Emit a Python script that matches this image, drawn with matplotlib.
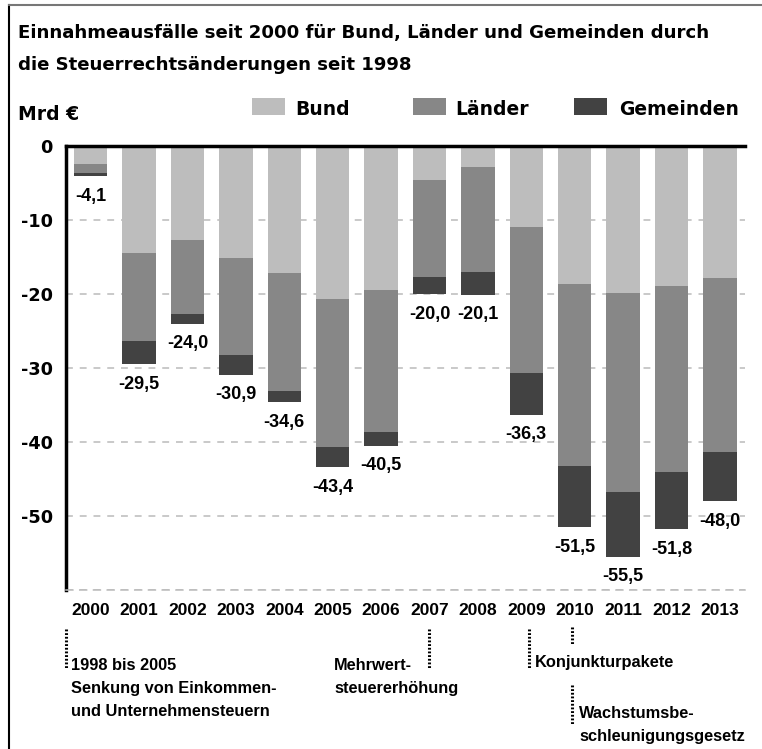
import matplotlib
matplotlib.use('Agg')
import matplotlib.pyplot as plt
import matplotlib.transforms as mtransforms
from matplotlib.patches import Rectangle
from matplotlib.lines import Line2D

years     = ['2000', '2001', '2002', '2003', '2004', '2005', '2006',
             '2007', '2008', '2009', '2010', '2011', '2012', '2013']
bund      = [2.4, 14.5, 12.7, 15.2, 17.1, 20.7, 19.4, 4.6, 2.8, 11.0, 18.6, 19.9, 18.9, 17.8]
laender   = [1.2, 11.9, 10.0, 13.0, 16.0, 20.0, 19.3, 13.1, 14.2, 19.7, 24.7, 26.9, 25.2, 23.6]
gemeinden = [0.5, 3.1, 1.3, 2.7, 1.5, 2.7, 1.8, 2.3, 3.1, 5.6, 8.2, 8.7, 7.7, 6.6]
totals    = [4.1, 29.5, 24.0, 30.9, 34.6, 43.4, 40.5, 20.0, 20.1, 36.3, 51.5, 55.5, 51.8, 48.0]

series_names  = ['Bund', 'Länder', 'Gemeinden']
series_colors = ['#bdbdbd', '#878787', '#424242']

y_ticks = [0, -10, -20, -30, -40, -50, -60]

title_lines = ['Einnahmeausfälle seit 2000 für Bund, Länder und Gemeinden durch',
               'die Steuerrechtsänderungen seit 1998']
unit_label = 'Mrd €'

# Anmerkungen unter der Achse
notes_text = [
    ['1998 bis 2005', 'Senkung von Einkommen-', 'und Unternehmensteuern'],
    ['Mehrwert-', 'steuererhöhung'],
    ['Konjunkturpakete'],
    ['Wachstumsbe-', 'schleunigungsgesetz'],
]

W, H = 762, 749
def fx(px):
    return px / W
def fy(py):
    return 1 - py / H

BIG = 'DejaVu Sans'
SMALL = 'Liberation Sans'


def main():
    fig = plt.figure(figsize=(W / 100, H / 100), dpi=100)
    ax = fig.add_axes([fx(66), fy(590), fx(745) - fx(66), fy(146) - fy(590)])

    x = list(range(len(years)))
    neg_b = [-v for v in bund]
    neg_l = [-v for v in laender]
    neg_g = [-v for v in gemeinden]
    bottom_l = neg_b
    bottom_g = [b + l for b, l in zip(neg_b, neg_l)]

    width = 0.69
    ax.bar(x, neg_b, width, color=series_colors[0], zorder=2)
    ax.bar(x, neg_l, width, bottom=bottom_l, color=series_colors[1], zorder=2)
    ax.bar(x, neg_g, width, bottom=bottom_g, color=series_colors[2], zorder=2)

    for i, t in enumerate(totals):
        ax.annotate(f'{-t:.1f}'.replace('.', ','), xy=(i, -t), xytext=(0, -14.4),
                    textcoords='offset points', ha='center', va='center',
                    fontsize=13, fontweight='bold', family=SMALL)

    ax.set_xlim(-0.51, 13.52)
    ax.set_ylim(-60, 0)

    ax.set_yticks(y_ticks)
    ax.set_yticklabels([str(v) if v > -60 else '' for v in y_ticks],
                       fontsize=12.7, fontweight='bold', family=BIG)
    ax.set_xticks(x)
    ax.set_xticklabels(years, fontsize=12.5, fontweight='bold', family=SMALL)
    ax.tick_params(axis='both', length=0)
    ax.tick_params(axis='y', pad=9.4)
    ax.tick_params(axis='x', pad=9.5)

    ax.yaxis.grid(True, color='#bbbbbb', linewidth=1.1, linestyle=(0, (4.5, 4.5)))
    ax.set_axisbelow(True)

    for s in ['left', 'top']:
        ax.spines[s].set_linewidth(2.5)
        ax.spines[s].set_color('black')
    ax.spines['right'].set_visible(False)
    ax.spines['bottom'].set_color('#bbbbbb')
    ax.spines['bottom'].set_linewidth(1.1)
    ax.spines['bottom'].set_linestyle((0, (4.5, 4.5)))

    # Titel und Einheit
    fig.text(fx(18), fy(38), title_lines[0], fontsize=13.1, fontweight='bold',
             family=BIG, va='baseline', ha='left')
    fig.text(fx(18), fy(70), title_lines[1], fontsize=13.1, fontweight='bold',
             family=BIG, va='baseline', ha='left')
    fig.text(fx(18), fy(120), unit_label, fontsize=13.5, fontweight='bold',
             family=BIG, va='baseline', ha='left')

    # Legende
    sq_left = [252, 413, 574]
    txt_left = [295, 455, 619]
    for name, col, sl, tl in zip(series_names, series_colors, sq_left, txt_left):
        fig.add_artist(Rectangle((fx(sl), fy(115)), fx(sl + 33) - fx(sl), fy(98) - fy(115),
                                 transform=fig.transFigure, facecolor=col, edgecolor='none'))
        fig.text(fx(tl), fy(115), name, fontsize=13.5, fontweight='bold', family=BIG,
                 va='baseline', ha='left')

    # Rahmen
    fig.add_artist(Line2D([fx(9), fx(9)], [0, fy(5)], color='black', lw=1.5,
                          transform=fig.transFigure))
    fig.add_artist(Line2D([fx(9), 1], [fy(5), fy(5)], color='#777777', lw=1.5,
                          transform=fig.transFigure))

    # Anmerkungen
    trans = mtransforms.blended_transform_factory(ax.transData, fig.transFigure)
    dot = dict(color='black', lw=2.2, linestyle=(0, (0.6, 0.6)), clip_on=False, transform=trans)
    ax.add_line(Line2D([-0.51, -0.51], [fy(629), fy(668)], **dot))
    ax.add_line(Line2D([7, 7], [fy(629), fy(669)], **dot))
    ax.add_line(Line2D([9.05, 9.05], [fy(629), fy(669)], **dot))
    ax.add_line(Line2D([9.94, 9.94], [fy(627), fy(645)], **dot))
    ax.add_line(Line2D([9.94, 9.94], [fy(685), fy(725)], **dot))

    note_pos = [(71, 665), (334, 665), (535, 663), (579, 713)]
    for lines, (px, py) in zip(notes_text, note_pos):
        for k, line in enumerate(lines):
            fig.text(fx(px), fy(py + k * 23.5), line, fontsize=11.8, fontweight='bold',
                     family=SMALL, va='center', ha='left')

    fig.savefig('out.png', dpi=100)


if __name__ == '__main__':
    main()
